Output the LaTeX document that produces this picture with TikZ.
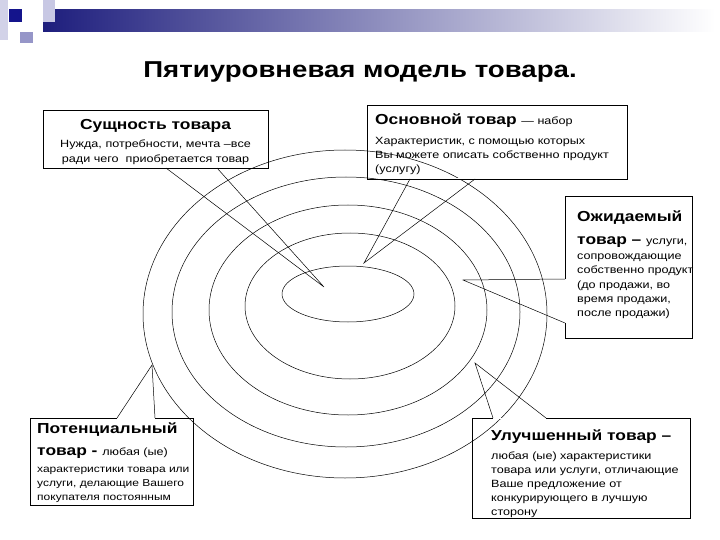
\documentclass[tikz,border=0pt]{standalone}
\usepackage{fontspec}
\setmainfont[FakeStretch=1.2]{Liberation Sans}
\definecolor{navy}{RGB}{30,30,125}
\definecolor{sqA}{RGB}{210,210,232}
\definecolor{sqB}{RGB}{200,200,228}
\definecolor{sqC}{RGB}{20,20,140}
\definecolor{sqD}{RGB}{150,150,200}
\begin{document}
\begin{tikzpicture}[x=1pt,y=-1pt,
  box/.style={draw,line width=0.6pt,inner sep=0pt},
  ln/.style={line width=0.5pt},
  bt/.style={anchor=base west,inner sep=0pt,font=\fontsize{10.5}{12}\selectfont},
  hd/.style={anchor=base west,inner sep=0pt,font=\bfseries\fontsize{14.5}{18}\selectfont}]
\useasboundingbox (0,0) rectangle (720,540);
\fill[white] (0,0) rectangle (720,540);
% decoration
\shade[left color=navy, right color=white] (43,10) rectangle (715,32);
\fill[sqA] (0,0) rectangle (8,40);
\fill[sqB] (43,0) rectangle (55,22);
\fill[sqC] (9,9) rectangle (22,22);
\fill[sqD] (20,32) rectangle (33,43);
\node[anchor=base,inner sep=0pt,font=\bfseries\fontsize{23}{26}\selectfont] (title) at (360,78) {Пятиуровневая модель товара.};
% ellipses
\draw[ln] (345,314) ellipse [x radius=202,y radius=164];
\draw[ln] (346,312) ellipse [x radius=174,y radius=135];
\draw[ln] (348,310) ellipse [x radius=139,y radius=105];
\draw[ln] (350,306) ellipse [x radius=105,y radius=73];
\draw[ln] (348,294) ellipse [x radius=66,y radius=28];
% tips
\coordinate (tA) at (324,287);
\coordinate (tB) at (364,263);
\coordinate (tC) at (463,280);
\coordinate (tD) at (152,365);
\coordinate (tE) at (475,363);
% box A
\draw[box] (43,110) rectangle (268,168);
\node[hd,anchor=base] (A1) at (155.5,130) {Сущность товара};
\node[bt,anchor=base] (A2) at (155.5,148) {Нужда, потребности, мечта –все};
\node[bt,anchor=base] (A3) at (155.5,163) {ради чего \ приобретается товар};
\draw[white,line width=1pt] (166,168) -- (217,168);
\draw[ln] (166,168) -- (tA) -- (217,168);
% box B
\draw[box] (367,105) rectangle (627,179);
\node[hd] (B1) at (375,125) {Основной товар \textmd{\fontsize{10.5}{12}\selectfont — набор}};
\node[bt] (B2) at (375,145) {Характеристик, с помощью которых};
\node[bt] (B3) at (375,159) {Вы можете описать собственно продукт};
\node[bt] (B4) at (375,173) {(услугу)};
\draw[white,line width=1pt] (410,179) -- (475,179);
\draw[ln] (410,179) -- (tB) -- (475,179);
% box C
\draw[box] (565,196) rectangle (692,338);
\node[hd] (C1) at (577,222) {Ожидаемый};
\node[hd] (C2) at (577,244) {товар – \textmd{\fontsize{10.5}{12}\selectfont услуги,}};
\node[bt] (C3) at (577,259) {сопровождающие};
\node[bt] (C4) at (577,273) {собственно продукт};
\node[bt] (C5) at (577,288) {(до продажи, во};
\node[bt] (C6) at (577,302) {время продажи,};
\node[bt] (C7) at (577,316) {после продажи)};
\draw[white,line width=1pt] (565,279) -- (565,323);
\draw[ln] (565,279) -- (tC) -- (565,323);
% box D
\draw[box] (30,418) rectangle (193,505);
\node[hd] (D1) at (37,433) {Потенциальный};
\node[hd] (D2) at (37,455) {товар - \textmd{\fontsize{10.5}{12}\selectfont любая (ые)}};
\node[bt,font=\fontsize{10}{12}\selectfont] (D3) at (37,472) {характеристики товара или};
\node[bt,font=\fontsize{10}{12}\selectfont] (D4) at (37,486) {услуги, делающие Вашего};
\node[bt,font=\fontsize{10}{12}\selectfont] (D5) at (37,500) {покупателя постоянным};
\draw[white,line width=1pt] (117,418) -- (155,418);
\draw[ln] (117,418) -- (tD) -- (155,418);
% box E
\draw[box] (472,418) rectangle (690,518);
\node[hd] (E1) at (491,440) {Улучшенный товар –};
\node[bt] (E2) at (491,459) {любая (ые) характеристики};
\node[bt] (E3) at (491,473) {товара или услуги, отличающие};
\node[bt] (E4) at (491,487) {Ваше предложение от};
\node[bt] (E5) at (491,501) {конкурирующего в лучшую};
\node[bt] (E6) at (491,515) {сторону};
\draw[white,line width=1pt] (493,418) -- (546,418);
\draw[ln] (493,418) -- (tE) -- (546,418);
\end{tikzpicture}
\end{document}
